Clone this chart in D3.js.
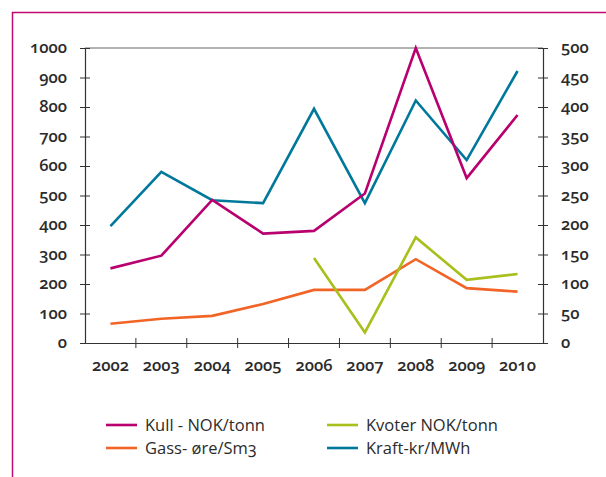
<!DOCTYPE html>
<html>
<head>
<meta charset="utf-8">
<script src="https://cdn.jsdelivr.net/npm/d3@7"></script>
<style>
  body { margin: 0; background: #fff; }
  svg text { font-family: "Open Sans", Lato, sans-serif; font-variant-numeric: oldstyle-nums; font-feature-settings: "onum" 1; fill: #2b2b2b; }
</style>
</head>
<body>
<div id="chart"></div>
<script>
// Data
var years = ["2002", "2003", "2004", "2005", "2006", "2007", "2008", "2009", "2010"];
var kull = [253, 296, 485, 371, 380, 507, 1000, 559, 773];      // left axis
var gass = [65, 82, 92, 132, 180, 180, 284, 186, 174];          // left axis
var kvoter = [null, null, null, null, 144, 18, 179, 107, 117];  // right axis
var kraft = [198, 290, 242, 237, 397, 237, 411, 310, 461];      // right axis
var leftTicks = [0, 100, 200, 300, 400, 500, 600, 700, 800, 900, 1000];
var rightTicks = [0, 50, 100, 150, 200, 250, 300, 350, 400, 450, 500];

var width = 606, height = 477;
var plotLeft = 85, plotRight = 543, plotTop = 48, plotBottom = 343;

var svg = d3.select("#chart")
    .append("svg")
    .attr("width", width)
    .attr("height", height);

// pink frame (left and top edges)
svg.append("path")
    .attr("d", "M12.5," + height + "V12.5H" + width)
    .attr("fill", "none")
    .attr("stroke", "#c4086f")
    .attr("stroke-width", 1.5);

var x = d3.scaleBand()
    .domain(years)
    .range([plotLeft, plotRight]);

var yLeft = d3.scaleLinear()
    .domain([0, 1000])
    .range([plotBottom, plotTop]);

var yRight = d3.scaleLinear()
    .domain([0, 500])
    .range([plotBottom, plotTop]);

// top border line
svg.append("line")
    .attr("x1", plotLeft).attr("x2", plotRight)
    .attr("y1", plotTop).attr("y2", plotTop)
    .attr("stroke", "#666")
    .attr("stroke-width", 1);

// left axis
var gl = svg.append("g")
    .attr("transform", "translate(" + plotLeft + ",0)")
    .call(d3.axisLeft(yLeft).tickValues(leftTicks).tickFormat(d3.format("d")).tickSize(5).tickPadding(13));

// right axis
var gr = svg.append("g")
    .attr("transform", "translate(" + plotRight + ",0)")
    .call(d3.axisRight(yRight).tickValues(rightTicks).tickFormat(d3.format("d")).tickSize(5).tickPadding(13));

// x axis: ticks at band boundaries
var gx = svg.append("g")
    .attr("transform", "translate(0," + plotBottom + ")")
    .call(d3.axisBottom(x).tickSize(0).tickPadding(16));

gx.selectAll(".boundary")
    .data(years.slice(1))
    .enter().append("line")
    .attr("x1", function(d) { return x(d); })
    .attr("x2", function(d) { return x(d); })
    .attr("y1", -5).attr("y2", 5)
    .attr("stroke", "#333");

[gl, gr, gx].forEach(function(g) {
    g.select(".domain").attr("stroke", "#333").attr("stroke-width", 1.2);
    g.selectAll(".tick line").attr("stroke", "#333");
    g.selectAll("text")
        .style("font-size", "16.5px")
        .style("font-weight", "600")
        .attr("fill", "#2b2b2b");
});
// ticks cross the vertical axes
gl.selectAll(".tick line").attr("x1", 5);
gr.selectAll(".tick line").attr("x1", -5);
gl.selectAll(".tick text").attr("dy", "0.3em");
gr.selectAll(".tick text").attr("dy", "0.3em");

var series = [
    { name: "Kraft-kr/MWh", values: kraft, scale: yRight, color: "#00789b" },
    { name: "Kull - NOK/tonn", values: kull, scale: yLeft, color: "#b8006f" },
    { name: "Gass- øre/Sm3", values: gass, scale: yLeft, color: "#f26426" },
    { name: "Kvoter NOK/tonn", values: kvoter, scale: yRight, color: "#a8bf1c" }
];

series.forEach(function(s) {
    var line = d3.line()
        .defined(function(d) { return d != null; })
        .x(function(d, i) { return x(years[i]) + x.bandwidth() / 2; })
        .y(function(d) { return s.scale(d); });
    svg.append("path")
        .datum(s.values)
        .attr("d", line)
        .attr("fill", "none")
        .attr("stroke", s.color)
        .attr("stroke-width", 2.6)
        .attr("stroke-linejoin", "miter");
});

// legend
var legendItems = [
    { name: "Kull - NOK/tonn", color: "#b8006f", lx: 106, ly: 425 },
    { name: "Gass- øre/Sm3", color: "#f26426", lx: 106, ly: 448 },
    { name: "Kvoter NOK/tonn", color: "#a8bf1c", lx: 327, ly: 425 },
    { name: "Kraft-kr/MWh", color: "#00789b", lx: 327, ly: 448 }
];

var legend = svg.selectAll(".legend")
    .data(legendItems)
    .enter().append("g")
    .attr("transform", function(d) { return "translate(" + d.lx + "," + d.ly + ")"; });

legend.append("line")
    .attr("x1", 0).attr("x2", 31)
    .attr("stroke", function(d) { return d.color; })
    .attr("stroke-width", 2.6);

legend.append("text")
    .attr("x", 39)
    .attr("dy", "0.35em")
    .style("font-size", "16.5px")
    .style("font-weight", "500")
    .text(function(d) { return d.name; });
</script>
</body>
</html>
